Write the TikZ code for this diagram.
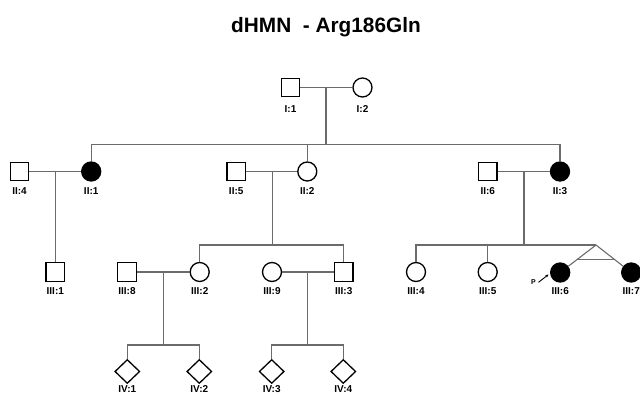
\documentclass[tikz,border=0pt]{standalone}
\usepackage{fontspec}
\setmainfont{Liberation Sans}
\usetikzlibrary{shapes.geometric,arrows.meta}
\tikzset{
  shp/.style={draw=black,line width=1.3pt,inner sep=0pt},
  male/.style={shp,rectangle,minimum size=18.5pt},
  fem/.style={shp,circle,minimum size=19pt},
  aff/.style={fill=black},
  unk/.style={shp,diamond,minimum width=25pt,minimum height=24pt},
  lab/.style={font=\bfseries\fontsize{10}{12}\selectfont,inner sep=0pt},
  ln/.style={draw=black!58,line width=1.1pt},
}
\begin{document}
\begin{tikzpicture}[x=1pt,y=-1pt]
\useasboundingbox (0,0) rectangle (640,396);
\node (title) at (326,27) {\bfseries\fontsize{20.8}{24}\selectfont dHMN\ \ - Arg186Gln};
% Generation I
\node[male] (I1) at (290.5,87.5) {};
\node[fem]  (I2) at (362.5,87.5) {};
\node[lab] (lI1) at (290.5,109) {I:1};
\node[lab] (lI2) at (362.5,109) {I:2};
% Generation II
\node[male] (II4) at (19.5,171.5) {};
\node[fem,aff] (II1) at (91.2,171.5) {};
\node[male] (II5) at (236.2,171.5) {};
\node[fem] (II2) at (307.3,171.5) {};
\node[male] (II6) at (487.8,171.5) {};
\node[fem,aff] (II3) at (560,171.5) {};
\node[lab] (lII4) at (19.5,191) {II:4};
\node[lab] (lII1) at (91.2,191) {II:1};
\node[lab] (lII5) at (236.2,191) {II:5};
\node[lab] (lII2) at (307.3,191) {II:2};
\node[lab] (lII6) at (487.8,191) {II:6};
\node[lab] (lII3) at (560,191) {II:3};
% Generation III
\node[male] (III1) at (55.3,272) {};
\node[male] (III8) at (127,272) {};
\node[fem] (III2) at (199.7,272) {};
\node[fem] (III9) at (272,272) {};
\node[male] (III3) at (343.7,272) {};
\node[fem] (III4) at (416,272) {};
\node[fem] (III5) at (487.7,272) {};
\node[fem,aff] (III6) at (560.2,272.5) {};
\node[fem,aff] (III7) at (631.2,272.5) {};
% Generation IV
\node[unk] (IV1) at (127.3,371.5) {};
\node[unk] (IV2) at (199.3,371.5) {};
\node[unk] (IV3) at (271.7,371.5) {};
\node[unk] (IV4) at (343.3,371.5) {};
% labels
\node[lab] (lIII1) at (55.3,291) {III:1};
\node[lab] (lIII8) at (127,291) {III:8};
\node[lab] (lIII2) at (199.7,291) {III:2};
\node[lab] (lIII9) at (272,291) {III:9};
\node[lab] (lIII3) at (343.7,291) {III:3};
\node[lab] (lIII4) at (416,291) {III:4};
\node[lab] (lIII5) at (487.7,291) {III:5};
\node[lab] (lIII6) at (560.2,291) {III:6};
\node[lab] (lIII7) at (631.2,291) {III:7};
\node[lab] (lIV1) at (127.3,389.5) {IV:1};
\node[lab] (lIV2) at (199.3,389.5) {IV:2};
\node[lab] (lIV3) at (271.7,389.5) {IV:3};
\node[lab] (lIV4) at (343.3,389.5) {IV:4};
% Proband
\node[lab,font=\bfseries\fontsize{7}{8}\selectfont] (P) at (533.5,282) {P};
\coordinate (pa) at (538.5,282.3);
\coordinate (pb) at (548.5,274.5);
\draw[line width=0.9pt,-{Stealth[length=3.2pt,width=3pt]}] (pa) -- (pb);
% Coordinates for lines
\coordinate (dI) at (326,87.5);
\coordinate (sI) at (326,144.7);
\coordinate (dII1) at (55.3,171.5);
\coordinate (dII2) at (272.7,171.5);
\coordinate (sII2) at (272.7,245);
\coordinate (dII3) at (524,171.5);
\coordinate (sII3) at (524,245);
\coordinate (twin) at (596,245);
\coordinate (dIII2) at (163.3,272);
\coordinate (sIII2) at (163.3,345);
\coordinate (dIII3) at (307.3,272);
\coordinate (sIII3) at (307.3,345);
\coordinate (tb1) at (577.4,259.4);
\coordinate (tb2) at (613.8,259.4);
% Gen I
\draw[ln] (I1) -- (I2);
\draw[ln] (dI) -- (sI);
\draw[ln] (II1.north) -- (II1.north |- sI) -- (II3.north |- sI) -- (II3.north);
\draw[ln] (II2.north) -- (II2.north |- sI);
% Gen II families
\draw[ln] (II4) -- (II1);
\draw[ln] (dII1) -- (III1.north);
\draw[ln] (II5) -- (II2);
\draw[ln] (dII2) -- (sII2);
\draw[ln] (III2.north) -- (III2.north |- sII2) -- (III3.north |- sII2) -- (III3.north);
\draw[ln] (II6) -- (II3);
\draw[ln] (dII3) -- (sII3);
\draw[ln] (III4.north) -- (III4.north |- sII3) -- (twin);
\draw[ln] (III5.north) -- (III5.north |- sII3);
\draw[ln] (twin) -- (III6);
\draw[ln] (twin) -- (III7);
\draw[ln] (tb1) -- (tb2);
% Gen III families
\draw[ln] (III8) -- (III2);
\draw[ln] (dIII2) -- (sIII2);
\draw[ln] (IV1.north) -- (IV1.north |- sIII2) -- (IV2.north |- sIII2) -- (IV2.north);
\draw[ln] (III9) -- (III3);
\draw[ln] (dIII3) -- (sIII3);
\draw[ln] (IV3.north) -- (IV3.north |- sIII3) -- (IV4.north |- sIII3) -- (IV4.north);
\end{tikzpicture}
\end{document}
